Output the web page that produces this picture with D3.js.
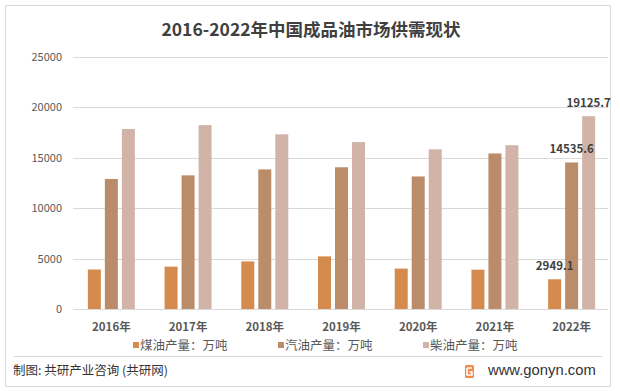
<!DOCTYPE html>
<html>
<head>
<meta charset="utf-8">
<script src="https://cdn.jsdelivr.net/npm/d3@7"></script>
<style>
  html, body { margin: 0; padding: 0; background: #fff; }
  svg { display: block; font-family: "Noto Sans CJK SC", "Noto Sans", sans-serif; }
</style>
</head>
<body>
<svg id="chart" width="620" height="391"></svg>
<script>
"use strict";

// ── Data ─────────────────────────────────────────────
const years = ["2016年", "2017年", "2018年", "2019年", "2020年", "2021年", "2022年"];
const seriesNames = ["煤油产量：万吨", "汽油产量：万吨", "柴油产量：万吨"];
const kerosene = [3920, 4200, 4720, 5220, 4010, 3900, 2949.1];
const gasoline = [12900, 13260, 13850, 14060, 13150, 15430, 14535.6];
const diesel   = [17860, 18240, 17330, 16560, 15840, 16250, 19125.7];
const yTicks = [0, 5000, 10000, 15000, 20000, 25000];
const colors = ["#D48B4D", "#BB8C6A", "#D2B3A7"];
const labelled = { "2022年": true };

const seriesValues = [kerosene, gasoline, diesel];

const svg = d3.select("#chart");

// outer frame
svg.append("rect")
  .attr("x", 5.5).attr("y", 5.5).attr("width", 605).attr("height", 381)
  .attr("fill", "#fff").attr("stroke", "#d9d9d9");

// title
svg.append("text")
  .attr("x", 311).attr("y", 36)
  .attr("text-anchor", "middle")
  .attr("font-size", "17.5px").attr("font-weight", "bold")
  .attr("fill", "#404040")
  .text("2016-2022年中国成品油市场供需现状");

// ── Scales ──
const x0 = d3.scaleBand().domain(years).range([73, 610]);
const x1 = d3.scaleBand().domain(d3.range(3))
  .range([-23.5, 23.5]).paddingInner(0.235);
const y = d3.scaleLinear().domain([0, 25000]).range([309, 57]);

// gridlines
svg.append("g")
  .selectAll("line").data(yTicks.slice(1)).join("line")
  .attr("x1", 73).attr("x2", 608)
  .attr("y1", d => Math.round(y(d)) + 0.5).attr("y2", d => Math.round(y(d)) + 0.5)
  .attr("stroke", "#d9d9d9").attr("stroke-width", 1);

// y axis labels
svg.append("g")
  .selectAll("text").data(yTicks).join("text")
  .attr("x", 62).attr("y", d => y(d) + 4)
  .attr("text-anchor", "end")
  .attr("font-size", "11px").attr("fill", "#595959")
  .text(d => d);

// bars
const groups = svg.append("g").selectAll("g").data(years).join("g")
  .attr("transform", d => `translate(${x0(d) + x0.bandwidth() / 2},0)`);

groups.selectAll("rect")
  .data((yr, i) => seriesValues.map((s, k) => ({ k, v: s[i], yr })))
  .join("rect")
  .attr("x", d => x1(d.k))
  .attr("width", x1.bandwidth())
  .attr("y", d => y(d.v))
  .attr("height", d => y(0) - y(d.v))
  .attr("fill", d => colors[d.k]);

// data labels
groups.selectAll("text.val")
  .data((yr, i) => labelled[yr] ? seriesValues.map((s, k) => ({ k, v: s[i] })) : [])
  .join("text")
  .attr("class", "val")
  .attr("x", d => x1(d.k) + x1.bandwidth() / 2)
  .attr("y", d => y(d.v) - 9)
  .attr("text-anchor", "middle")
  .attr("font-size", "11.5px").attr("font-weight", "bold")
  .attr("fill", "#404040")
  .text(d => d.v.toFixed(1));

// x axis line
svg.append("line")
  .attr("x1", 73).attr("x2", 608)
  .attr("y1", 309.5).attr("y2", 309.5)
  .attr("stroke", "#d9d9d9");

// x labels
svg.append("g").selectAll("text").data(years).join("text")
  .attr("x", d => x0(d) + x0.bandwidth() / 2)
  .attr("y", 331)
  .attr("text-anchor", "middle")
  .attr("font-size", "11.5px").attr("font-weight", "bold")
  .attr("fill", "#595959")
  .text(d => d);

// legend
const legendX = [133, 278, 423];
const leg = svg.append("g").selectAll("g").data(seriesNames).join("g")
  .attr("transform", (d, i) => `translate(${legendX[i]},345)`);
leg.append("rect")
  .attr("x", 0).attr("y", -3).attr("width", 6).attr("height", 6)
  .attr("fill", (d, i) => colors[i]);
leg.append("text")
  .attr("x", 7).attr("y", 4.5)
  .attr("font-size", "12.5px").attr("fill", "#595959")
  .text(d => d);

// footer
svg.append("line")
  .attr("x1", 14).attr("x2", 602)
  .attr("y1", 356.5).attr("y2", 356.5)
  .attr("stroke", "#d9d9d9");

svg.append("text")
  .attr("x", 13).attr("y", 375)
  .attr("font-size", "12.5px").attr("fill", "#333")
  .text("制图: 共研产业咨询 (共研网)");

// logo mark
const logo = svg.append("g").attr("transform", "translate(465,365)");
logo.append("rect").attr("width", 9).attr("height", 13).attr("rx", 1.5).attr("fill", "#F08A4B");
logo.append("path")
  .attr("d", "M2,3 H7 M2,3 V10 H7 V7 H4.5")
  .attr("fill", "none").attr("stroke", "#fff").attr("stroke-width", 1.6);

svg.append("text")
  .attr("x", 488).attr("y", 375)
  .attr("font-size", "14.8px").attr("fill", "#333")
  .attr("font-family", "'Liberation Sans', 'DejaVu Sans', sans-serif")
  .text("www.gonyn.com");
</script>
</body>
</html>
